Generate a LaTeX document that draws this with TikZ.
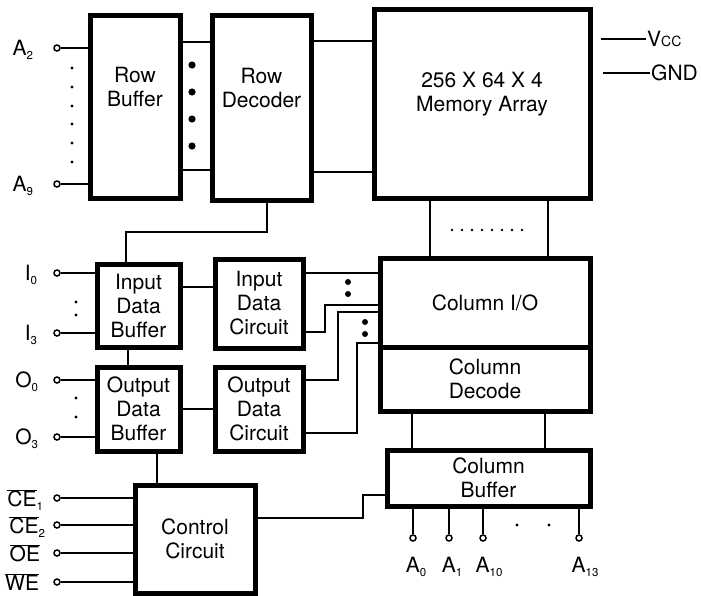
\documentclass[tikz,border=0pt]{standalone}
\usepackage{fontspec}
\setmainfont{TeX Gyre Heros}
\usepackage{tikz}
\usetikzlibrary{positioning,calc}
\newcommand{\lowsub}[1]{\raisebox{-4pt}{\fontsize{11.5}{11.5}\selectfont #1}}
\newcommand{\negsig}[1]{$\overline{\mbox{#1}}$}

\begin{document}
\begin{tikzpicture}[x=1pt,y=-1pt,font=\fontsize{21}{24}\selectfont,
  blk/.style={draw,rectangle,line width=5pt,inner sep=0pt,outer sep=0pt,align=center},
  wire/.style={line width=2.4pt},
  pad/.style={circle,draw,fill=white,line width=1.5pt,inner sep=0pt,minimum size=6pt},
  sig/.style={inner sep=0pt,text depth=0pt}]
\useasboundingbox (0,0) rectangle (701,595);
\node[blk,minimum width=90pt,minimum height=183pt] (rbuf) at (135,106.5) {};
\node[blk,minimum width=99pt,minimum height=185pt] (rdec) at (261.5,107.5) {};
\node[blk,minimum width=216pt,minimum height=189pt] (mem) at (482,103.5) {};
\node[align=center] (rbuf-t) at ([yshift=20pt]rbuf.center) {Row\\Buffer};
\node[align=center] (rdec-t) at ([yshift=20pt]rdec.center) {Row\\Decoder};
\node[align=center] (mem-t) at ([yshift=9pt]mem.center) {256 X 64 X 4\\Memory Array};
\node[blk,minimum width=210pt,minimum height=89pt] (colio) at (485,302.5) {Column I/O};
\node[blk,minimum width=210pt,minimum height=64pt] (coldec) at (485,379) {Column\\Decode};
\node[blk,minimum width=203pt,minimum height=56pt] (colbuf) at (488.5,478) {Column\\Buffer};
\node[blk,minimum width=83pt,minimum height=83pt] (idb) at (138.5,305.5) {Input\\Data\\Buffer};
\node[blk,minimum width=83pt,minimum height=84pt] (odb) at (138.5,409) {Output\\Data\\Buffer};
\node[blk,minimum width=88pt,minimum height=89pt] (idc) at (259,303.5) {Input\\Data\\Circuit};
\node[blk,minimum width=88pt,minimum height=84pt] (odc) at (259,409) {Output\\Data\\Circuit};
\node[blk,minimum width=120pt,minimum height=108pt] (ctrl) at (195,539) {Control\\Circuit};
% address and data pins
\foreach \nm/\yy in {a2/48,a9/184,i0/273,i3/333,o0/380,o3/437,ce1/498,ce2/525,oe/553,we/582}
  \node[pad] (\nm pad) at (57,\yy) {};
\foreach \nm/\bx in {a2/rbuf,a9/rbuf,i0/idb,i3/idb,o0/odb,o3/odb,ce1/ctrl,ce2/ctrl,oe/ctrl,we/ctrl}
  \draw[wire] (\nm pad) -- (\nm pad -| \bx.west);
\node[sig,left=20pt of a2pad] (a2lbl) {A\lowsub{2}}; \node[sig,left=20pt of a9pad] (a9lbl) {A\lowsub{9}};
\node[sig,left=16pt of i0pad] (i0lbl) {I\lowsub{0}}; \node[sig,left=16pt of i3pad] (i3lbl) {I\lowsub{3}};
\node[sig,left=15pt of o0pad] (o0lbl) {O\lowsub{0}}; \node[sig,left=15pt of o3pad] (o3lbl) {O\lowsub{3}};
\node[sig,left=10pt of ce1pad] (ce1lbl) {\negsig{CE}\lowsub{1}}; \node[sig,left=8pt of ce2pad] (ce2lbl) {\negsig{CE}\lowsub{2}};
\node[sig,left=13pt of oepad] (oelbl) {\negsig{OE}}; \node[sig,left=14pt of wepad] (welbl) {\negsig{WE}};
\foreach \yy in {68,87,106,124,143,162} \fill (72,\yy) circle (1.6pt);
\fill (76,302) circle (1.6pt); \fill (76,315) circle (1.6pt);
\fill (76,398) circle (1.6pt); \fill (76,417) circle (1.6pt);
% column address pins
\foreach \nm/\xx in {a0/413,a1/449,a10/483,a13/579} {
  \node[pad] (\nm pad) at (\xx,538) {};
  \draw[wire] (\nm pad) -- (\nm pad |- colbuf.south);
}
\node[sig,below=15pt of a0pad,xshift=3pt] (a0lbl) {A\lowsub{0}}; \node[sig,below=15pt of a1pad,xshift=3pt] (a1lbl) {A\lowsub{1}};
\node[sig,below=15pt of a10pad,xshift=6pt] (a10lbl) {A\lowsub{10}}; \node[sig,below=15pt of a13pad,xshift=6pt] (a13lbl) {A\lowsub{13}};
\fill (517,525) circle (1.6pt); \fill (549,525) circle (1.6pt);
% row bus
\draw[wire] ([yshift=-27pt]rbuf.north east) -- ([yshift=-27pt]rbuf.north east -| rdec.west);
\draw[wire] ([yshift=28pt]rbuf.south east) -- ([yshift=28pt]rbuf.south east -| rdec.west);
\foreach \yy in {65,92,119,146} \fill (192,\yy) circle (3.6pt);
\draw[wire] ([yshift=-26pt]rdec.north east) -- ([yshift=-26pt]rdec.north east -| mem.west);
\draw[wire] ([yshift=28pt]rdec.south east) -- ([yshift=28pt]rdec.south east -| mem.west);
% array to column I/O
\draw[wire] ([xshift=56pt]mem.south west) -- ([xshift=56pt]mem.south west |- colio.north);
\draw[wire] ([xshift=-42pt]mem.south east) -- ([xshift=-42pt]mem.south east |- colio.north);
\foreach \i in {0,...,7} \fill (452+10*\i,230) circle (1.4pt);
\draw[wire] ([xshift=32pt]coldec.south west) -- ([xshift=32pt]coldec.south west |- colbuf.north);
\draw[wire] ([xshift=-45pt]coldec.south east) -- ([xshift=-45pt]coldec.south east |- colbuf.north);
% data path
\draw[wire] ([xshift=55pt]rdec.south west) -- ++(0,32) -| ([xshift=29pt]idb.north west);
\draw[wire] ([xshift=31pt]idb.south west) -- ([xshift=31pt]idb.south west |- odb.north);
\draw[wire] ([xshift=60pt]odb.south west) -- ([xshift=60pt]odb.south west |- ctrl.north);
\draw[wire] ([yshift=-23pt]idb.north east) -- ([yshift=-23pt]idb.north east -| idc.west);
\draw[wire] (odb.east) -- (odc.west);
\draw[wire] ([yshift=-14pt]idc.north east) -- ([yshift=-14pt]idc.north east -| colio.west);
\draw[wire] ([yshift=-73pt]idc.north east) -- ++(22,0) |- ([yshift=-47pt]colio.north west);
\draw[wire] ([yshift=-13pt]odc.north east) -- ++(35,0) |- ([yshift=-54pt]colio.north west);
\draw[wire] ([yshift=-66pt]odc.north east) -- ++(54,0) |- ([yshift=-85pt]colio.north west);
\fill (348,282) circle (3pt); \fill (348,294) circle (3pt);
\fill (365,322) circle (3pt); \fill (365,334) circle (3pt);
\draw[wire] ([yshift=-33pt]ctrl.north east) -- ++(108,0) |- ([yshift=-45pt]colbuf.north west);
% supply
\coordinate (vccend) at (601,39); \coordinate (gndend) at (603,73);
\node[anchor=west,inner sep=1pt] (vcc) at (646,39) {V{\fontsize{14}{14}\selectfont CC}};
\node[anchor=west,inner sep=1pt] (gnd) at (650,73) {GND};
\draw[wire] (vccend) -- (vcc.west); \draw[wire] (gndend) -- (gnd.west);
\end{tikzpicture}
\end{document}
